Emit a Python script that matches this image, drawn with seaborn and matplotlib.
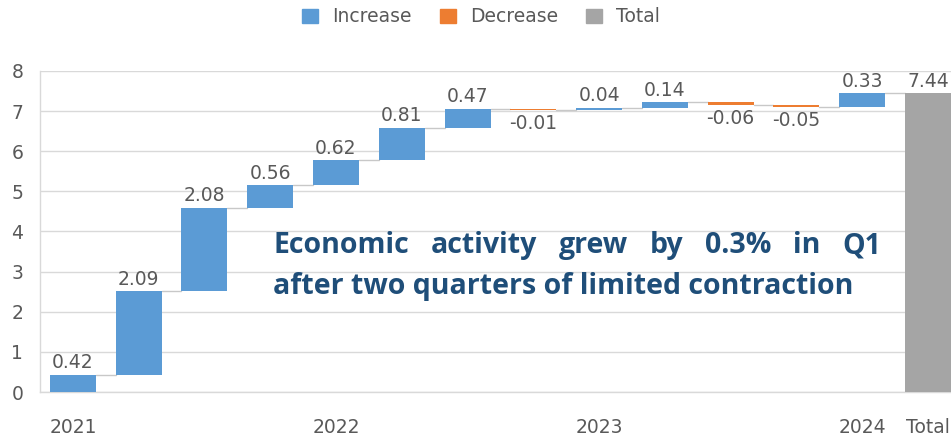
import matplotlib
matplotlib.use("Agg")
import matplotlib.pyplot as plt
import seaborn as sns
import numpy as np
import pandas as pd
from matplotlib.patches import Patch

# ---- data ----
quarters = ["2021Q1", "2021Q2", "2021Q3", "2021Q4",
            "2022Q1", "2022Q2", "2022Q3", "2022Q4",
            "2023Q1", "2023Q2", "2023Q3", "2023Q4",
            "2024Q1", "Total"]
tick_labels = ["2021", "", "", "", "2022", "", "", "", "2023", "", "", "", "2024", "Total"]
changes = [0.42, 2.09, 2.08, 0.56, 0.62, 0.81, 0.47, -0.01, 0.04, 0.14, -0.06, -0.05, 0.33]
total_value = 7.44
legend_labels = ["Increase", "Decrease", "Total"]
annotation_line1 = "Economic activity grew by 0.3% in Q1"
annotation_line2 = "after two quarters of limited contraction"

# ---- derived waterfall geometry ----
cum = np.cumsum(changes)
bottoms = list(np.concatenate([[0], cum[:-1]])) + [0]
heights = list(changes) + [total_value]
kinds = ["Increase" if c >= 0 else "Decrease" for c in changes] + ["Total"]
df = pd.DataFrame({"quarter": quarters, "height": heights, "bottom": bottoms, "kind": kinds})

colors = {"Increase": "#5B9BD5", "Decrease": "#ED7D31", "Total": "#A5A5A5"}
txt = "#595959"
grid_c = "#D9D9D9"

sns.set_theme(style="white")
plt.rcParams["font.family"] = ["DejaVu Sans"]
small_fs = 13.5

W, H = 951, 438
fig = plt.figure(figsize=(W / 100, H / 100), dpi=100)
ax_left, ax_right, ax_top, ax_bot = 40, 951, 71, 392
ax = fig.add_axes([ax_left / W, 1 - ax_bot / H, (ax_right - ax_left) / W, (ax_bot - ax_top) / H])

sns.barplot(data=df, x="quarter", y="height", bottom=df["bottom"].values,
            order=quarters, color=colors["Increase"], width=0.7,
            saturation=1, errorbar=None, ax=ax, zorder=3, linewidth=0)
for patch, k in zip(ax.patches, df["kind"]):
    patch.set_facecolor(colors[k])
    patch.set_edgecolor(colors[k])

# connector lines
for i in range(len(quarters) - 1):
    lvl = cum[i]
    ax.plot([i + 0.35, i + 1 - 0.35], [lvl, lvl], color="#C8C8C8", lw=1, zorder=2)

# value labels
for i, (h, b, k) in enumerate(zip(heights, bottoms, kinds)):
    top = b + h
    if h >= 0:
        ax.annotate(f"{h:.2f}", (i, top), xytext=(0, 2), textcoords="offset points",
                    ha="center", va="bottom", fontsize=small_fs, color=txt, zorder=5)
    else:
        ax.annotate(f"{h:.2f}", (i, b + h), xytext=(0, -3), textcoords="offset points",
                    ha="center", va="top", fontsize=small_fs, color=txt, zorder=5)

ax.set_ylim(0, 8)
ax.set_xlim(-0.5, 13.35)
ax.set_yticks(range(0, 9))
ax.yaxis.grid(True, color=grid_c, lw=1, zorder=0)
ax.set_axisbelow(True)
ax.set_xticks(range(len(quarters)))
ax.set_xticklabels(tick_labels)
ax.tick_params(axis="x", length=0, pad=19, labelsize=small_fs, labelcolor=txt)
ax.tick_params(axis="y", length=0, pad=12, labelsize=small_fs, labelcolor=txt)
ax.set_xlabel("")
ax.set_ylabel("")
for s in ["top", "right"]:
    ax.spines[s].set_visible(False)
for s in ["left", "bottom"]:
    ax.spines[s].set_color(grid_c)
    ax.spines[s].set_linewidth(1)

# legend
handles = [Patch(facecolor=colors[l], edgecolor=colors[l], label=l) for l in legend_labels]
fig.legend(handles=handles, loc="center", bbox_to_anchor=(481 / W, 1 - 17 / H), ncol=3,
           frameon=False, fontsize=small_fs, labelcolor=txt, handlelength=0.85, handleheight=0.85,
           handletextpad=0.75, columnspacing=1.5)

# annotation (justified first line)
ann_color = "#1F4E79"
fs = 20.5
x0, x1 = 273 / W, 881 / W
y1 = 1 - 253 / H
y2 = 1 - 294 / H
words = annotation_line1.split(" ")
fig.canvas.draw()
renderer = fig.canvas.get_renderer()
objs = []
for w_ in words:
    t = fig.text(0, y1, w_, fontsize=fs, fontweight="bold", color=ann_color, va="baseline",
                 ha="left", family=["Open Sans", "DejaVu Sans"])
    objs.append(t)
widths = [t.get_window_extent(renderer).width / W for t in objs]
gap = (x1 - x0 - sum(widths)) / (len(words) - 1)
xp = x0
for t, wd in zip(objs, widths):
    t.set_x(xp)
    xp += wd + gap
fig.text(x0, y2, annotation_line2, fontsize=fs, fontweight="bold", color=ann_color, va="baseline",
         ha="left", family=["Open Sans", "DejaVu Sans"])

fig.savefig("out.png", dpi=100)
